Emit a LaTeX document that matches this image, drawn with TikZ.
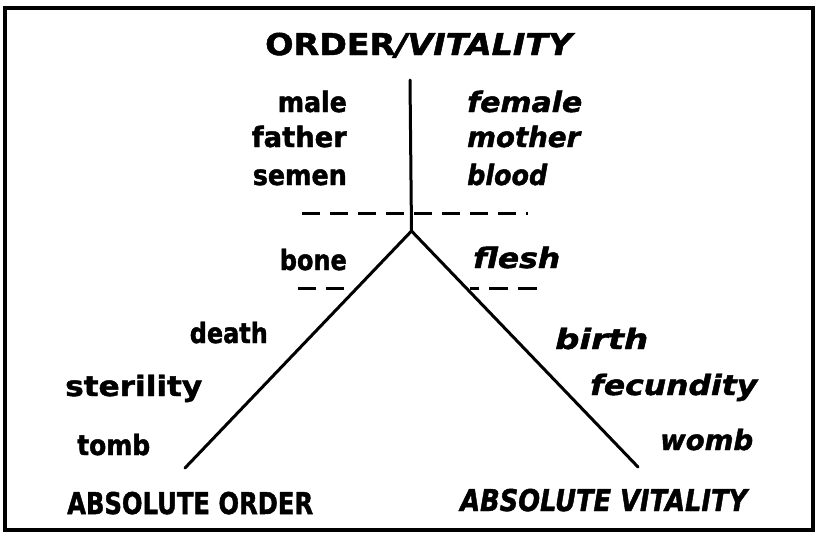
\documentclass[tikz,border=0pt]{standalone}
\usepackage{fontspec}
\setmainfont{DejaVu Sans}
\newfontfamily\heavy[FakeBold=1.6]{DejaVu Sans Bold}
\newfontfamily\heavyit[FakeBold=1.6]{DejaVu Sans Bold Oblique}
\usepackage{graphicx}
\newcommand{\fitw}[2]{\resizebox{#1}{\height}{#2}}
\tikzset{
  word/.style={inner sep=0pt, font=\fontsize{28}{28}\heavy},
  iword/.style={inner sep=0pt, font=\fontsize{28}{28}\heavyit},
  head/.style={inner sep=0pt, font=\fontsize{30}{30}\heavy},
  ihead/.style={inner sep=0pt, font=\fontsize{30}{30}\heavyit},
  solidline/.style={line width=3pt, line cap=round, line join=miter},
  dashline/.style={line width=3pt, dash pattern=on 18pt off 10pt},
  frame/.style={line width=3.5pt},
}
\begin{document}
\begin{tikzpicture}[x=1pt,y=-1pt]
\useasboundingbox (0,0) rectangle (816,536);
\draw[frame] (5,8) rectangle (813,530);

% structure
\coordinate (T) at (410,80);
\coordinate (V) at (411.5,231);
\coordinate (L) at (185,468);
\coordinate (R) at (638,467);
\draw[solidline] (T) -- (V);
\draw[solidline] (L) -- (V) -- (R);

% dashed lines
\coordinate (U1) at (302,213);
\coordinate (U2) at (528,213);
\draw[dashline] (U1) -- (U2);
\coordinate (DL1) at (298,288);
\coordinate (DL2) at (352,288);
\draw[dashline] (DL1) -- (DL2);
\coordinate (DR1) at (537,288);
\coordinate (DR2) at (470,288);
\draw[dashline, dash pattern=on 19pt off 10pt] (DR1) -- (DR2);

% title
\node[head, anchor=base west] (title) at (265,55) {\fitw{307pt}{ORDER{\heavyit/VITALITY}}};

% upper left
\node[word, anchor=base east] (male) at (347,112) {\fitw{69pt}{male}};
\node[word, anchor=base east] (father) at (347,147) {\fitw{95pt}{father}};
\node[word, anchor=base east] (semen) at (347,185) {\fitw{94pt}{semen}};
\node[word, anchor=base east] (bone) at (347,270) {\fitw{67pt}{bone}};

% upper right
\node[iword, anchor=base west] (female) at (467,112) {\fitw{115pt}{female}};
\node[iword, anchor=base west] (mother) at (467,147) {\fitw{113pt}{mother}};
\node[iword, anchor=base west] (blood) at (467,185) {\fitw{80pt}{blood}};
\node[iword, anchor=base west] (flesh) at (473,268) {\fitw{87pt}{flesh}};

% lower left
\node[word, anchor=base east] (death) at (268,343) {\fitw{78pt}{death}};
\node[word, anchor=base west] (sterility) at (65,396) {\fitw{137pt}{sterility}};
\node[word, anchor=base west] (tomb) at (77,455) {\fitw{73pt}{tomb}};

% lower right
\node[iword, anchor=base west] (birth) at (555,349) {\fitw{93pt}{birth}};
\node[iword, anchor=base west] (fecundity) at (590,395) {\fitw{167pt}{fecundity}};
\node[iword, anchor=base west] (womb) at (660,450) {\fitw{93pt}{womb}};

% bottom labels
\node[head, anchor=base west] (absorder) at (67,514) {\fitw{246pt}{ABSOLUTE ORDER}};
\node[ihead, anchor=base west] (absvital) at (460,511) {\fitw{287pt}{ABSOLUTE VITALITY}};
\end{tikzpicture}
\end{document}
